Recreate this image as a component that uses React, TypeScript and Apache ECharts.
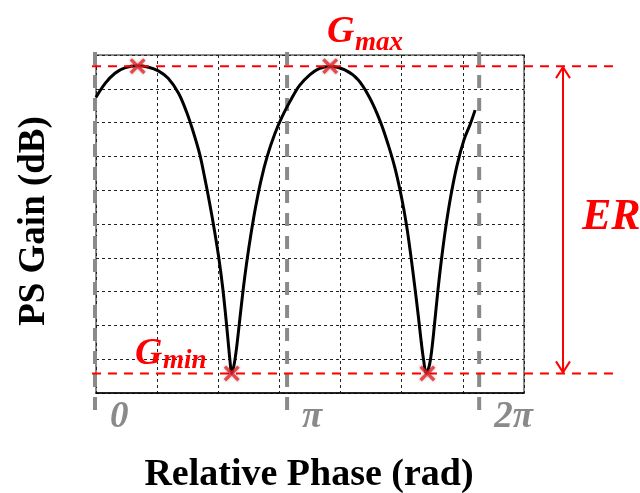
import React, { useEffect, useRef } from "react";
import * as echarts from "echarts";

// Curve: relative phase (rad) vs PS gain (grid units)
const phase = [
  0.0, 0.15, 0.31, 0.47, 0.67, 0.86, 1.02, 1.18, 1.35, 1.48, 1.59, 1.7, 1.78, 1.86, 1.94, 2.01, 2.07, 2.12,
  2.16, 2.19, 2.22, 2.26, 2.3, 2.35, 2.4, 2.46, 2.53, 2.61, 2.7, 2.8, 2.92, 3.05, 3.18, 3.33, 3.5, 3.65, 3.83,
  4.07, 4.29, 4.48, 4.65, 4.78, 4.89, 5.0, 5.08, 5.15, 5.21, 5.27, 5.32, 5.36, 5.4, 5.45, 5.49, 5.54, 5.59,
  5.65, 5.72, 5.8, 5.9, 6.02, 6.12, 6.2,
];
const gain = [
  8.75, 9.16, 9.46, 9.62, 9.68, 9.64, 9.53, 9.31, 8.87, 8.32, 7.73, 7.04, 6.35, 5.6, 4.78, 3.98, 3.15, 2.3,
  1.55, 0.98, 0.58, 0.85, 1.35, 2.15, 2.95, 3.8, 4.65, 5.5, 6.3, 7.0, 7.65, 8.2, 8.65, 9.1, 9.42, 9.6, 9.66,
  9.56, 9.26, 8.72, 8.03, 7.34, 6.65, 5.76, 4.95, 4.05, 3.2, 2.3, 1.5, 0.95, 0.58, 0.8, 1.25, 2.1, 3.0,
  3.95, 4.9, 5.8, 6.7, 7.5, 7.95, 8.37,
];
const peakPhase = [0.68, 3.83];
const dipPhase = [2.22, 5.42];
const G_MAX = 9.67;
const G_MIN = 0.58;
const tickPhases = [0, Math.PI, 2 * Math.PI];
const tickLabels = ["0", "π", "2π"];

const SERIF = '"Liberation Serif", "Times New Roman", serif';
const RED = "#ff0000";
const XMARK = "path://M3,0 L10,7 L17,0 L20,3 L13,10 L20,17 L17,20 L10,13 L3,20 L0,17 L7,10 L0,3 Z";

export default function App() {
  const ref = useRef<HTMLDivElement>(null);
  useEffect(() => {
    const chart = echarts.init(ref.current!, null, { renderer: "svg" });
    const split = { show: true, lineStyle: { color: "#222", width: 1, type: [3, 3] } };
    chart.setOption({
      animation: false,
      grid: { left: 96, right: 116, top: 55, bottom: 100, show: true, borderColor: "#666", borderWidth: 1.5 },
      xAxis: {
        type: "value", min: 0, max: 7, interval: 1,
        axisLine: { show: true, lineStyle: { color: "#000", width: 1.5 } },
        axisTick: { show: false }, axisLabel: { show: false }, splitLine: split,
      },
      yAxis: {
        type: "value", min: 0, max: 10, interval: 1,
        axisLine: { show: false }, axisTick: { show: false }, axisLabel: { show: false }, splitLine: split,
      },
      series: [
        {
          type: "line", data: phase.map((p, i) => [p, gain[i]]), smooth: 0.35, symbol: "none",
          lineStyle: { color: "#000", width: 3 }, z: 3,
        },
        {
          type: "scatter",
          data: [...peakPhase.map((p) => [p, G_MAX]), ...dipPhase.map((p) => [p, G_MIN])],
          symbol: XMARK, symbolSize: 16,
          itemStyle: { color: "#e3262a", shadowBlur: 3, shadowColor: "rgba(0,0,0,0.35)" }, z: 6,
        },
      ],
    });

    const px = (x: number, y: number) => chart.convertToPixel({ gridIndex: 0 }, [x, y]) as number[];
    const yMax = px(0, G_MAX)[1];
    const yMin = px(0, G_MIN)[1];
    const arrowX = 563;
    const g: any[] = [];
    tickPhases.forEach((p, i) => {
      const x = px(p, 0)[0] - 1;
      g.push({
        type: "line", z: 1, shape: { x1: x, y1: 52, x2: x, y2: 420 },
        style: { stroke: "#8a8a8a", lineWidth: 4, lineDash: [13, 10] },
      });
      g.push({
        type: "text", z: 10, x: x + 15, y: 414,
        style: { text: tickLabels[i], fill: "#8a8a8a", font: `italic bold 37px ${SERIF}`, align: "left", verticalAlign: "middle" },
      });
    });
    [yMax, yMin].forEach((y) => {
      g.push({
        type: "line", z: 4, shape: { x1: 92, y1: y, x2: 620, y2: y },
        style: { stroke: RED, lineWidth: 2, lineDash: [9, 7] },
      });
    });
    g.push({ type: "line", z: 4, shape: { x1: arrowX, y1: yMax + 1, x2: arrowX, y2: yMin - 1 }, style: { stroke: RED, lineWidth: 2 } });
    g.push({ type: "polyline", z: 4, shape: { points: [[arrowX - 7, yMax + 12], [arrowX, yMax + 1], [arrowX + 7, yMax + 12]] }, style: { stroke: RED, lineWidth: 2, fill: null } });
    g.push({ type: "polyline", z: 4, shape: { points: [[arrowX - 7, yMin - 12], [arrowX, yMin - 1], [arrowX + 7, yMin - 12]] }, style: { stroke: RED, lineWidth: 2, fill: null } });

    const txt = (text: string, x: number, y: number, size: number, color: string, italic: boolean, extra: any = {}) => ({
      type: "text", z: 10, x, y, ...extra,
      style: { text, fill: color, font: `${italic ? "italic " : ""}bold ${size}px ${SERIF}`, align: extra.align || "left", verticalAlign: "middle" },
    });
    g.push(txt("G", 327, 29, 38, RED, true));
    g.push(txt("max", 355, 41, 27, RED, true));
    g.push(txt("G", 135, 351, 38, RED, true));
    g.push(txt("min", 163, 359, 27, RED, true));
    g.push(txt("ER", 582, 214, 44, RED, true));
    g.push(txt("Relative Phase (rad)", 309, 472, 38, "#000", false, { align: "center" }));
    g.push(txt("PS Gain (dB)", 31, 221, 37, "#000", false, { align: "center", rotation: Math.PI / 2 }));
    chart.setOption({ graphic: g });
    return () => chart.dispose();
  }, []);
  return <div ref={ref} style={{ position: "fixed", left: 0, top: 0, width: 640, height: 493 }} />;
}
